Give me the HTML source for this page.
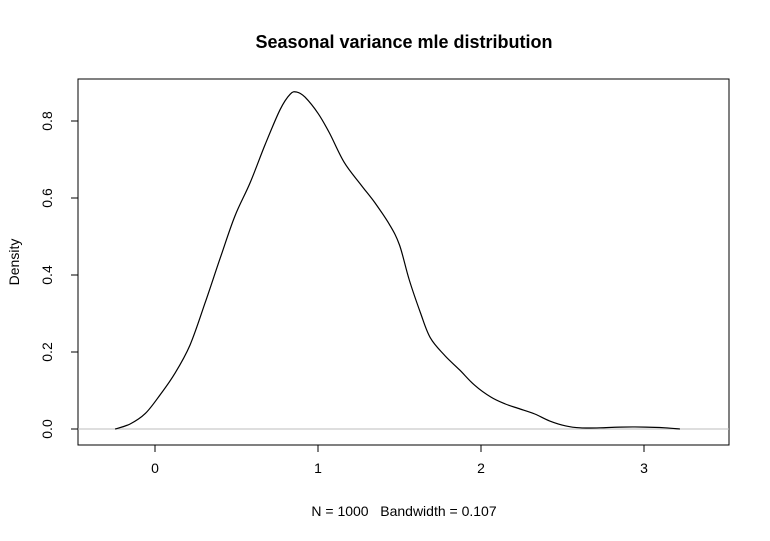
<!DOCTYPE html>
<html><head><meta charset="utf-8"><style>
body{margin:0;background:#fff;}
svg{display:block;font-family:"Liberation Sans",Arial,sans-serif;}
</style></head><body>
<svg id="chart" width="770" height="541">
<text x="404" y="48" text-anchor="middle" font-size="18" font-weight="bold">Seasonal variance mle distribution</text>
<rect x="78" y="79" width="651" height="366" fill="none" stroke="#000"/>
<g id="xaxis"></g>
<g id="yaxis"></g>
<line x1="78" x2="729" id="zeroline" stroke="#bebebe"/>
<path id="curve" fill="none" stroke="#000" stroke-width="1.2"/>
<text x="404" y="516" text-anchor="middle" font-size="14" style="white-space:pre" xml:space="preserve">N = 1000   Bandwidth = 0.107</text>
<text transform="translate(19,262) rotate(-90)" text-anchor="middle" font-size="14">Density</text>
</svg>
<script>
const xs=[-0.245,-0.153,-0.06,0.03,0.123,0.215,0.307,0.4,0.49,0.583,0.675,0.767,0.83,0.87,0.92,1.0,1.07,1.16,1.26,1.35,1.44,1.5,1.56,1.63,1.69,1.78,1.87,1.96,2.06,2.15,2.24,2.33,2.42,2.52,2.61,2.73,2.85,3.01,3.13,3.22];
const ys=[0,0.013,0.04,0.088,0.145,0.218,0.327,0.444,0.553,0.639,0.738,0.829,0.87,0.875,0.862,0.82,0.769,0.693,0.636,0.587,0.53,0.478,0.387,0.3,0.236,0.19,0.153,0.114,0.083,0.065,0.052,0.039,0.021,0.008,0.003,0.003,0.005,0.005,0.003,0];
const xTicks=[0,1,2,3];
const yTicks=[0,0.2,0.4,0.6,0.8];
const yLabels=["0.0","0.2","0.4","0.6","0.8"];
const X=v=>155+v*163, Y=v=>429-v*385;
const NS="http://www.w3.org/2000/svg";
function mk(t,a,p){const e=document.createElementNS(NS,t);for(const k in a)e.setAttribute(k,a[k]);p.appendChild(e);return e;}
const P=xs.map((x,i)=>[X(x),Y(ys[i])]);
let d='M'+P[0][0].toFixed(1)+','+P[0][1].toFixed(1);
for(let i=0;i<P.length-1;i++){
 const p0=P[Math.max(i-1,0)],p1=P[i],p2=P[i+1],p3=P[Math.min(i+2,P.length-1)];
 const c1=[p1[0]+(p2[0]-p0[0])/6,p1[1]+(p2[1]-p0[1])/6];
 const c2=[p2[0]-(p3[0]-p1[0])/6,p2[1]-(p3[1]-p1[1])/6];
 d+=`C${c1[0].toFixed(1)},${c1[1].toFixed(1)} ${c2[0].toFixed(1)},${c2[1].toFixed(1)} ${p2[0].toFixed(1)},${p2[1].toFixed(1)}`;
}
document.getElementById('curve').setAttribute('d',d);
const zl=document.getElementById('zeroline');zl.setAttribute('y1',Y(0));zl.setAttribute('y2',Y(0));
const xa=document.getElementById('xaxis');
mk('line',{x1:X(xTicks[0]),x2:X(xTicks[xTicks.length-1]),y1:445,y2:445,stroke:'#000'},xa);
xTicks.forEach(t=>{
 const l=mk('line',{x1:X(t),x2:X(t),y1:445,y2:452,stroke:'#000'},xa);
 
 
 const s=mk('text',{x:X(t),y:473,'text-anchor':'middle','font-size':14},xa);s.textContent=t;
 
 
});
const ya=document.getElementById('yaxis');
mk('line',{x1:78,x2:78,y1:Y(0),y2:Y(0.8),stroke:'#000'},ya);
yTicks.forEach((t,i)=>{
 const l=mk('line',{x1:71,x2:78,y1:Y(t),y2:Y(t),stroke:'#000'},ya);
 
 
 const s=mk('text',{transform:`translate(52,${Y(t)}) rotate(-90)`,'text-anchor':'middle','font-size':14},ya);s.textContent=yLabels[i];
 
 
});
</script>
</body></html>
